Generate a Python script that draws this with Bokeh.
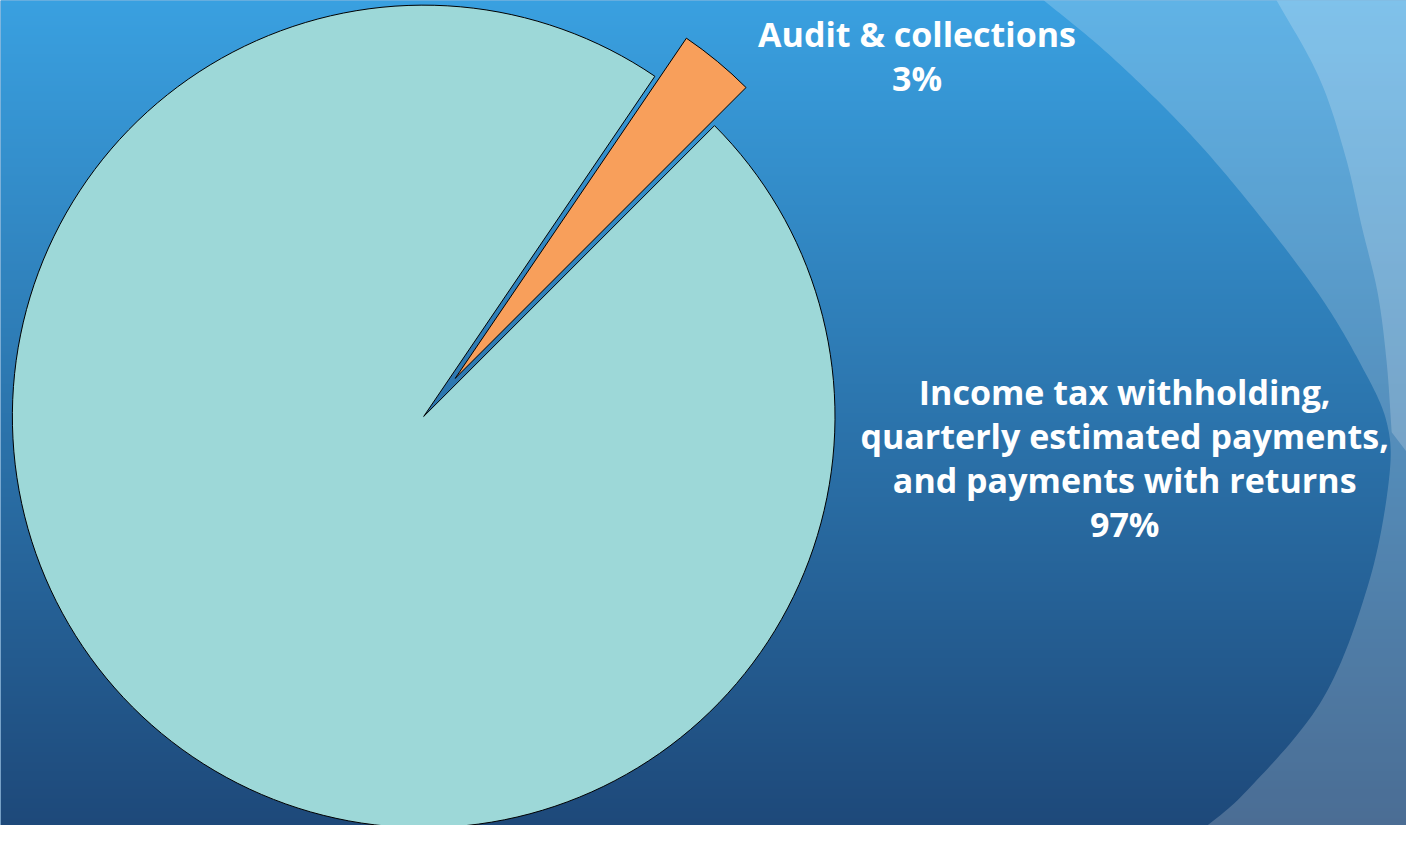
import numpy as np
from bokeh.plotting import figure
from bokeh.models import Range1d, ColumnDataSource
from bokeh.core.properties import value
from bokeh.embed import file_html
from bokeh.resources import INLINE

# ---------------- data ----------------
categories = [
    "Income tax withholding,\nquarterly estimated payments,\nand payments with returns",
    "Audit & collections",
]
shares = [97, 3]

# ---------------- style / layout ----------------
slice_colors = ["#9dd8d8", "#f89f5b"]
explode_px = [0, 50]
first_slice_angle_deg = 55.8   # where the big slice starts (anticlockwise)
label_x = [1137, 927]
label_first_baseline = [399, 37]   # reference pixel rows (from top), adjusted for baseline offset
line_step = 44.7

REF_W, REF_H = 1422, 841
W, H = 1406, 825
s = W / REF_W
yspan = H / s
y0 = (REF_H - yspan) / 2

p = figure(width=W, height=H, x_range=Range1d(0, REF_W), y_range=Range1d(y0, y0 + yspan),
           output_backend="svg", toolbar_location=None, min_border=0)
p.axis.visible = False
p.grid.visible = False
p.outline_line_color = None
p.background_fill_color = "#2d7cbf"
p.border_fill_color = "#2d7cbf"

# background vertical gradient (row 0 = bottom)
top = np.array([58, 161, 225], dtype=float)
bot = np.array([30, 73, 122], dtype=float)
n = REF_H
t = np.linspace(0, 1, n)[:, None]
cols = bot + (top - bot) * t
rgba = np.zeros((n, 4, 4), dtype=np.uint8)
for k in range(3):
    rgba[:, :, k] = cols[:, k:k + 1].astype(np.uint8)
rgba[:, :, 3] = 255
img = rgba.view(dtype=np.uint32).reshape((n, 4))
p.image_rgba(image=[img], x=0, y=0, dw=REF_W, dh=REF_H)


def catmull(pts, m=20):
    pts = np.asarray(pts, dtype=float)
    P = np.vstack([2 * pts[0] - pts[1], pts, 2 * pts[-1] - pts[-2]])
    out = []
    for i in range(1, len(P) - 2):
        p0, p1, p2, p3 = P[i - 1], P[i], P[i + 1], P[i + 2]
        for u in np.linspace(0, 1, m, endpoint=False):
            out.append(0.5 * ((2 * p1) + (-p0 + p2) * u + (2 * p0 - 5 * p1 + 4 * p2 - p3) * u ** 2
                              + (-p0 + 3 * p1 - 3 * p2 + p3) * u ** 3))
    out.append(P[-2])
    return np.array(out)


# decorative light swooshes (reference pixel coords, y from top)
curveA = catmull([(1045, -5), (1120, 57), (1200, 135), (1267, 213), (1333, 300), (1375, 370),
                  (1402, 430), (1404, 490), (1383, 595), (1337, 710), (1260, 803), (1205, 850)])
curveB = catmull([(1286, -5), (1333, 80), (1360, 160), (1377, 233), (1393, 300), (1402, 370),
                  (1407, 440)])
polyA = np.vstack([curveA, [(1430, 850), (1430, -5)]])
polyB = np.vstack([curveB, [(1430, 470), (1430, -5)]])
p.patch(polyA[:, 0], REF_H - polyA[:, 1], fill_color="white", fill_alpha=0.2, line_color=None)
p.patch(polyB[:, 0], REF_H - polyB[:, 1], fill_color="white", fill_alpha=0.2, line_color=None)

# ---------------- pie ----------------
cx, cy, R = 428, REF_H - 424, 416
total = float(sum(shares))
starts, ends, xs, ys = [], [], [], []
a = np.radians(first_slice_angle_deg)
for v, ex in zip(shares, explode_px):
    span = 2 * np.pi * v / total
    st, en = a, a + span
    mid = (st + en) / 2
    xs.append(cx + ex * np.cos(mid))
    ys.append(cy + ex * np.sin(mid))
    starts.append(st % (2 * np.pi))
    ends.append(en % (2 * np.pi))
    a = en

src = ColumnDataSource(dict(x=xs, y=ys, start=starts, end=ends, color=slice_colors))
p.wedge(x="x", y="y", radius=R, start_angle="start", end_angle="end", fill_color="color",
        line_color="black", line_width=1, source=src)

# ---------------- labels ----------------
tx, ty, tt = [], [], []
for name, v, lx, lb in zip(categories, shares, label_x, label_first_baseline):
    lines = name.split("\n") + [f"{v}%"]
    for i, ln in enumerate(lines):
        tx.append(lx)
        ty.append(REF_H - (lb + i * line_step))
        tt.append(ln)
p.text(x=tx, y=ty, text=tt, text_align="center", text_baseline="alphabetic",
       text_font=value("Open Sans"), text_font_style="bold", text_font_size="34px",
       text_color="white")

open("out.html", "w").write(file_html(p, INLINE))
